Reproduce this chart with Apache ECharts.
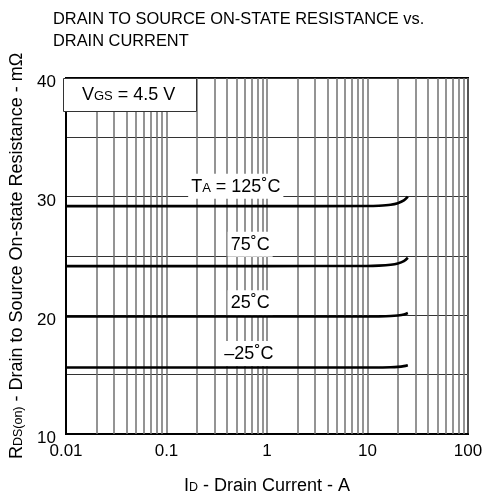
<!DOCTYPE html>
<html><head><meta charset="utf-8">
<script src="https://cdn.jsdelivr.net/npm/echarts@6/dist/echarts.min.js"></script>
<style>html,body{margin:0;padding:0;background:#fff}#c{width:490px;height:500px}</style>
</head><body><div id="c"></div>
<script>
// Drain current (A) sample points
const currentA = [0.01, 1, 10, 13, 17, 20, 23, 25.2];
// RDS(on) in mOhm for each junction temperature
const r125 = [29.2, 29.2, 29.21, 29.24, 29.32, 29.45, 29.68, 30.0];
const r75  = [24.15, 24.15, 24.16, 24.19, 24.26, 24.36, 24.56, 24.85];
const r25  = [19.9, 19.9, 19.9, 19.91, 19.94, 19.99, 20.07, 20.2];
const rm25 = [15.6, 15.6, 15.6, 15.61, 15.63, 15.66, 15.72, 15.8];
// axis ticks
const xTickLabels = ['0.01', '0.1', '1', '10', '100'];
const yTickLabels = [10, 20, 30, 40];
const minorGridCurrents = [
  0.02,0.03,0.04,0.05,0.06,0.07,0.08,0.09,
  0.2,0.3,0.4,0.5,0.6,0.7,0.8,0.9,
  2,3,4,5,6,7,8,9,
  20,30,40,50,60,70,80,90
];

const FONT = '"Liberation Sans", Arial, sans-serif';
const GRID_V = '#707070';
const pair = arr => currentA.map((x, i) => [x, arr[i]]);
const labelRich = {
  a: {fontSize: 18, fontFamily: FONT, color: '#000', lineHeight: 20, verticalAlign: 'bottom'},
  s: {fontSize: 13, fontFamily: FONT, color: '#000', lineHeight: 20, verticalAlign: 'bottom', padding: [0, 0, 1, 0]}
};
const nameRich = {
  a: {fontSize: 18, fontFamily: FONT, color: '#000', lineHeight: 20, verticalAlign: 'bottom'},
  s: {fontSize: 12.5, fontFamily: FONT, color: '#000', lineHeight: 20, verticalAlign: 'bottom', padding: [0, 0, 1, 0]}
};
function curveLabel(coord, text) {
  return {
    symbol: 'rect', symbolSize: 1, silent: true,
    itemStyle: {color: 'rgba(0,0,0,0)'},
    label: {show: true, position: 'inside', backgroundColor: '#fff', padding: [2, 3, 3, 3],
      formatter: text, rich: labelRich},
    data: [{coord: coord}]
  };
}
function curve(name, arr, lbl) {
  return {
    name: name, type: 'line', data: pair(arr), symbol: 'none', smooth: 0.3,
    lineStyle: {color: '#000', width: 2.6}, z: 5, silent: true,
    markPoint: lbl
  };
}

const chart = echarts.init(document.getElementById('c'), null, {renderer: 'canvas'});
chart.setOption({
  animation: false,
  backgroundColor: '#fff',
  title: {
    text: 'DRAIN TO SOURCE ON-STATE RESISTANCE vs.\nDRAIN CURRENT',
    left: 48, top: 3,
    textStyle: {fontSize: 16.4, fontWeight: 'normal', fontFamily: FONT, color: '#000', lineHeight: 22}
  },
  grid: {left: 63, right: 22, top: 78, bottom: 64, show: true, borderColor: '#000', borderWidth: 2, backgroundColor: 'transparent'},
  xAxis: {
    type: 'log', logBase: 10, min: 0.01, max: 100,
    name: '{a|I}{s|D}{a| - Drain Current - A}', nameLocation: 'middle', nameGap: 41,
    nameTextStyle: {rich: nameRich},
    axisLine: {show: true, lineStyle: {color: '#000', width: 2}},
    axisTick: {show: false},
    axisLabel: {fontSize: 17, fontFamily: FONT, color: '#000', margin: 9,
      formatter: v => { const s = String(+v.toPrecision(3)); return xTickLabels.includes(s) ? s : ''; }},
    splitLine: {show: true, lineStyle: {color: GRID_V, width: 1.5}}
  },
  yAxis: {
    type: 'value', min: 10, max: 40, interval: 5,
    name: '{a|R}{s|DS(on)}{a| - Drain to Source On-state Resistance - mΩ}', nameLocation: 'middle', nameGap: 40,
    nameTextStyle: {rich: nameRich},
    axisLine: {show: true, lineStyle: {color: '#000', width: 2}},
    axisTick: {show: false},
    axisLabel: {color: '#000', margin: 10,
      formatter: v => yTickLabels.includes(v) ? '{v|' + v + '}' : '',
      rich: {v: {fontSize: 17, fontFamily: FONT, color: '#000', padding: [9, 0, 0, 0]}}},
    splitLine: {show: true, lineStyle: {color: '#333', width: 1.2}}
  },
  graphic: [
    {type: 'rect', left: 63, top: 78, z: 100, shape: {x: 0, y: 0, width: 133, height: 33},
      style: {fill: '#fff', stroke: '#333', lineWidth: 1}},
    {type: 'text', left: 82, top: 86, z: 101, style: {
        text: '{a|V}{s|GS}{a| = 4.5 V}', rich: labelRich}}
  ],
  series: [
    {
      type: 'line', data: [[0.01, 10]], symbol: 'none', lineStyle: {opacity: 0}, silent: true, z: 1,
      markLine: {
        silent: true, symbol: ['none', 'none'], label: {show: false}, animation: false,
        lineStyle: {color: GRID_V, width: 1.5, type: 'solid'},
        emphasis: {disabled: true},
        data: minorGridCurrents.map(v => ({xAxis: v}))
      }
    },
    curve('125', r125, curveLabel([0.489, 30.87], '{a|T}{s|A}{a| = 125˚C}')),
    curve('75', r75, curveLabel([0.68, 26.0], '{a|75˚C}')),
    curve('25', r25, curveLabel([0.68, 21.06], '{a|25˚C}')),
    curve('-25', rm25, curveLabel([0.66, 16.79], '{a|–25˚C}'))
  ]
});
</script></body></html>
